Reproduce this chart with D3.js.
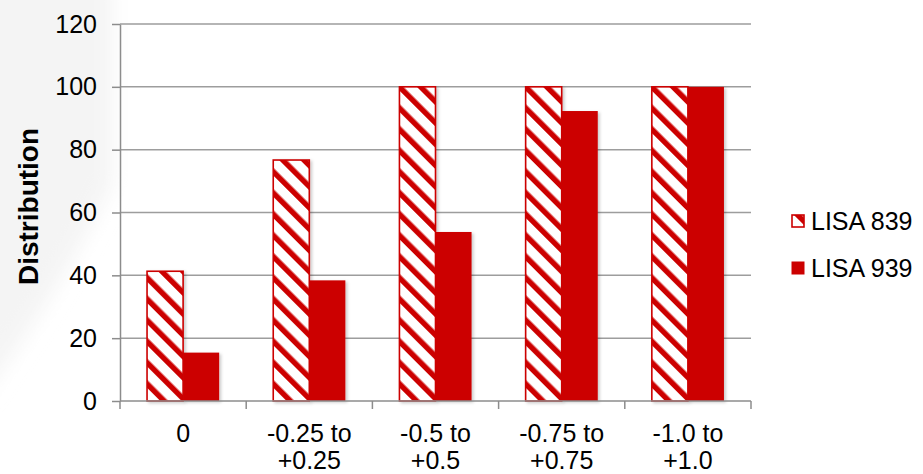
<!DOCTYPE html>
<html>
<head>
<meta charset="utf-8">
<script src="https://cdn.jsdelivr.net/npm/d3@7"></script>
<style>
  html, body { margin: 0; padding: 0; background: #fff; }
  svg { display: block; font-family: Arial, "Liberation Sans", sans-serif; }
</style>
</head>
<body>
<svg id="chart" width="923" height="474"></svg>
<script>
// Category labels (two lines each), series values and axis ticks
const categories = ["0", "-0.25 to|+0.25", "-0.5 to|+0.5", "-0.75 to|+0.75", "-1.0 to|+1.0"];
const seriesNames = ["LISA 839", "LISA 939"];
const lisa839 = [41.3, 76.7, 100, 100, 100];
const lisa939 = [15.4, 38.4, 53.8, 92.3, 100];
const yTicks = [0, 20, 40, 60, 80, 100, 120];
const yTitle = "Distribution";

const red = "#cc0000";
const svg = d3.select("#chart");
const W = 923, H = 474;
const margin = { left: 120, right: 175, top: 24, bottom: 73 };

const defs = svg.append("defs");

// diagonal stripe fill for the first series
const pat = defs.append("pattern")
  .attr("id", "stripes")
  .attr("patternUnits", "userSpaceOnUse")
  .attr("width", 15).attr("height", 15)
  .attr("patternTransform", "rotate(-45)");
pat.append("rect").attr("width", 15).attr("height", 15).attr("fill", "#fff");
pat.append("rect").attr("width", 5.5).attr("height", 15).attr("fill", red);

// soft shadow under bars
const shadow = defs.append("filter").attr("id", "shadow")
  .attr("x", "-20%").attr("y", "-5%").attr("width", "150%").attr("height", "115%");
shadow.append("feDropShadow").attr("dx", 2).attr("dy", 1.5)
  .attr("stdDeviation", 1.5).attr("flood-color", "#000").attr("flood-opacity", 0.2);

const haze = defs.append("filter").attr("id", "haze")
  .attr("x", "-50%").attr("y", "-50%").attr("width", "200%").attr("height", "200%");
haze.append("feGaussianBlur").attr("stdDeviation", 10);

// faint background wash on the left
svg.append("path")
  .attr("d", "M-20,-20 L112,-20 L112,185 Q60,290 -20,400 Z")
  .attr("fill", "#f4f4f4")
  .attr("filter", "url(#haze)");

const x0 = d3.scaleBand()
  .domain(d3.range(categories.length))
  .range([margin.left, W - margin.right + 3])
  .paddingInner(0).paddingOuter(0);

const y = d3.scaleLinear().domain([0, 120]).range([H - margin.bottom, margin.top]);

const barW = x0.bandwidth() / 3.5;
const x1 = d3.scaleBand().domain([0, 1])
  .range([x0.bandwidth() / 2 - barW, x0.bandwidth() / 2 + barW]);

const plotRight = x0.range()[1];

// gridlines
svg.append("g").selectAll("line")
  .data(yTicks.filter(d => d > 0))
  .join("line")
  .attr("x1", margin.left).attr("x2", plotRight)
  .attr("y1", d => y(d)).attr("y2", d => y(d))
  .attr("stroke", "#9d9d9d").attr("stroke-width", 1.5);

// y axis
const yAxis = svg.append("g")
  .attr("transform", `translate(${margin.left},0)`)
  .call(d3.axisLeft(y).tickValues(yTicks).tickSize(8).tickPadding(15).tickSizeOuter(0));
yAxis.select(".domain").attr("stroke", "#8c8c8c").attr("stroke-width", 1.5);
yAxis.selectAll(".tick line").attr("stroke", "#8c8c8c").attr("stroke-width", 1.5);
yAxis.selectAll("text")
  .attr("font-size", 25).attr("fill", "#000")
  .attr("font-family", "Arial, 'Liberation Sans', sans-serif");

// bars
const groups = svg.append("g").selectAll("g")
  .data(categories.map((c, i) => ({ i, vals: [lisa839[i], lisa939[i]] })))
  .join("g")
  .attr("transform", d => `translate(${x0(d.i)},0)`);

groups.selectAll("rect")
  .data(d => d.vals.map((v, s) => ({ v, s })))
  .join("rect")
  .attr("x", d => x1(d.s))
  .attr("width", x1.bandwidth())
  .attr("y", d => y(d.v))
  .attr("height", d => y(0) - y(d.v))
  .attr("fill", d => d.s === 0 ? "url(#stripes)" : red)
  .attr("stroke", d => d.s === 0 ? red : "none")
  .attr("stroke-width", 1.6)
  .attr("filter", "url(#shadow)");

// x axis
const xg = svg.append("g").attr("transform", `translate(0,${y(0)})`);
xg.append("line")
  .attr("x1", margin.left).attr("x2", plotRight)
  .attr("stroke", "#8c8c8c").attr("stroke-width", 1.5);
const bounds = d3.range(categories.length + 1).map(i =>
  i < categories.length ? x0(i) : x0(i - 1) + x0.bandwidth());
xg.selectAll("line.tick").data(bounds).join("line")
  .attr("class", "tick")
  .attr("x1", d => d).attr("x2", d => d)
  .attr("y1", 0).attr("y2", 8)
  .attr("stroke", "#8c8c8c").attr("stroke-width", 1.5);

const labels = xg.selectAll("text.cat").data(categories).join("text")
  .attr("class", "cat")
  .attr("text-anchor", "middle")
  .attr("font-size", 25)
  .attr("fill", "#000");
labels.each(function (d, i) {
  const t = d3.select(this);
  d.split("|").forEach((line, k) => {
    t.append("tspan")
      .attr("x", x0(i) + x0.bandwidth() / 2)
      .attr("y", 41 + k * 27)
      .text(line);
  });
});

// y axis title
svg.append("text")
  .attr("transform", `translate(38,${y(60) - 6}) rotate(-90)`)
  .attr("text-anchor", "middle")
  .attr("font-size", 28)
  .attr("font-weight", "bold")
  .attr("fill", "#000")
  .text(yTitle);

// legend
const legend = svg.append("g").attr("transform", "translate(791,0)");
const legY = [221, 268];
seriesNames.forEach((name, s) => {
  legend.append("rect")
    .attr("x", s === 0 ? 1 : 0.5).attr("y", legY[s] - (s === 0 ? 6 : 6.5))
    .attr("width", s === 0 ? 12 : 13).attr("height", s === 0 ? 12 : 13)
    .attr("fill", s === 0 ? "url(#stripes)" : red)
    .attr("stroke", s === 0 ? red : "none")
    .attr("stroke-width", 1.6);
  legend.append("text")
    .attr("x", 20).attr("y", legY[s] + 9)
    .attr("font-size", 25)
    .attr("fill", "#000")
    .text(name);
});
</script>
</body>
</html>
